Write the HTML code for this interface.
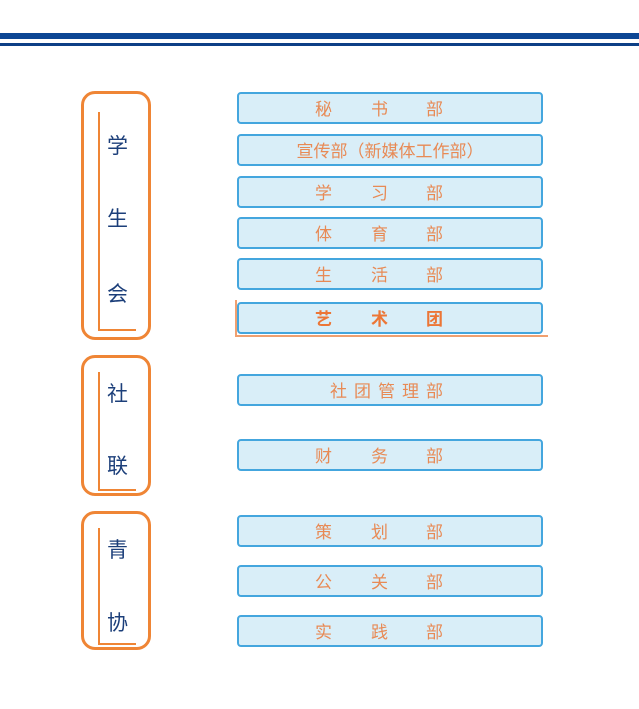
<!DOCTYPE html>
<html><head><meta charset="utf-8"><style>
body{margin:0;width:639px;height:709px;background:#fff;position:relative;overflow:hidden;font-family:"Liberation Sans","Noto Sans CJK SC",sans-serif}
.a{position:absolute}
.grp{position:absolute;left:81px;width:70px;border:3px solid #ef8535;border-radius:14px;box-sizing:border-box}
.L{position:absolute;left:14px;border-left:2px solid #ef8535;border-bottom:2px solid #ef8535;width:36px}
.gc{position:absolute;left:23px;font-size:21px;color:#1c3f7a}
.b{position:absolute;left:237px;width:306px;height:32px;box-sizing:border-box;border:2px solid #44a6de;border-radius:4px;background:#d9eef8;color:#e88a55;font-size:17px;line-height:31px}
.b span{position:absolute;top:0}
</style></head><body>
<div class="a" style="left:0;top:33px;width:639px;height:6px;background:#0d4694"></div>
<div class="a" style="left:0;top:43px;width:639px;height:3px;background:#0d3f86"></div>

<div class="grp" style="top:91px;height:249px"><div class="L" style="top:18px;height:217px"></div>
<div class="gc" style="top:36px">学</div><div class="gc" style="top:109px">生</div><div class="gc" style="top:184px">会</div></div>
<div class="grp" style="top:355px;height:141px"><div class="L" style="top:14px;height:117px"></div>
<div class="gc" style="top:20px">社</div><div class="gc" style="top:92px">联</div></div>
<div class="grp" style="top:511px;height:139px"><div class="L" style="top:14px;height:115px"></div>
<div class="gc" style="top:20px">青</div><div class="gc" style="top:93px">协</div></div>

<div class="b" style="top:92px"><span style="left:76px">秘</span><span style="left:132px">书</span><span style="left:187px">部</span></div>
<div class="b" style="top:134px;text-align:center">宣传部（新媒体工作部）</div>
<div class="b" style="top:176px"><span style="left:76px">学</span><span style="left:132px">习</span><span style="left:187px">部</span></div>
<div class="b" style="top:217px"><span style="left:76px">体</span><span style="left:132px">育</span><span style="left:187px">部</span></div>
<div class="b" style="top:258px"><span style="left:76px">生</span><span style="left:132px">活</span><span style="left:187px">部</span></div>
<div class="a" style="left:235px;top:300px;width:313px;height:37px;border-left:2px solid #f0a070;border-bottom:2px solid #f0a070;box-sizing:border-box"></div>
<div class="b" style="top:302px;color:#ec7636;font-weight:bold"><span style="left:76px">艺</span><span style="left:132px">术</span><span style="left:187px">团</span></div>
<div class="b" style="top:374px;text-align:center;letter-spacing:7px">社团管理部</div>
<div class="b" style="top:439px"><span style="left:76px">财</span><span style="left:132px">务</span><span style="left:187px">部</span></div>
<div class="b" style="top:515px"><span style="left:76px">策</span><span style="left:132px">划</span><span style="left:187px">部</span></div>
<div class="b" style="top:565px"><span style="left:76px">公</span><span style="left:132px">关</span><span style="left:187px">部</span></div>
<div class="b" style="top:615px"><span style="left:76px">实</span><span style="left:132px">践</span><span style="left:187px">部</span></div>
</body></html>
